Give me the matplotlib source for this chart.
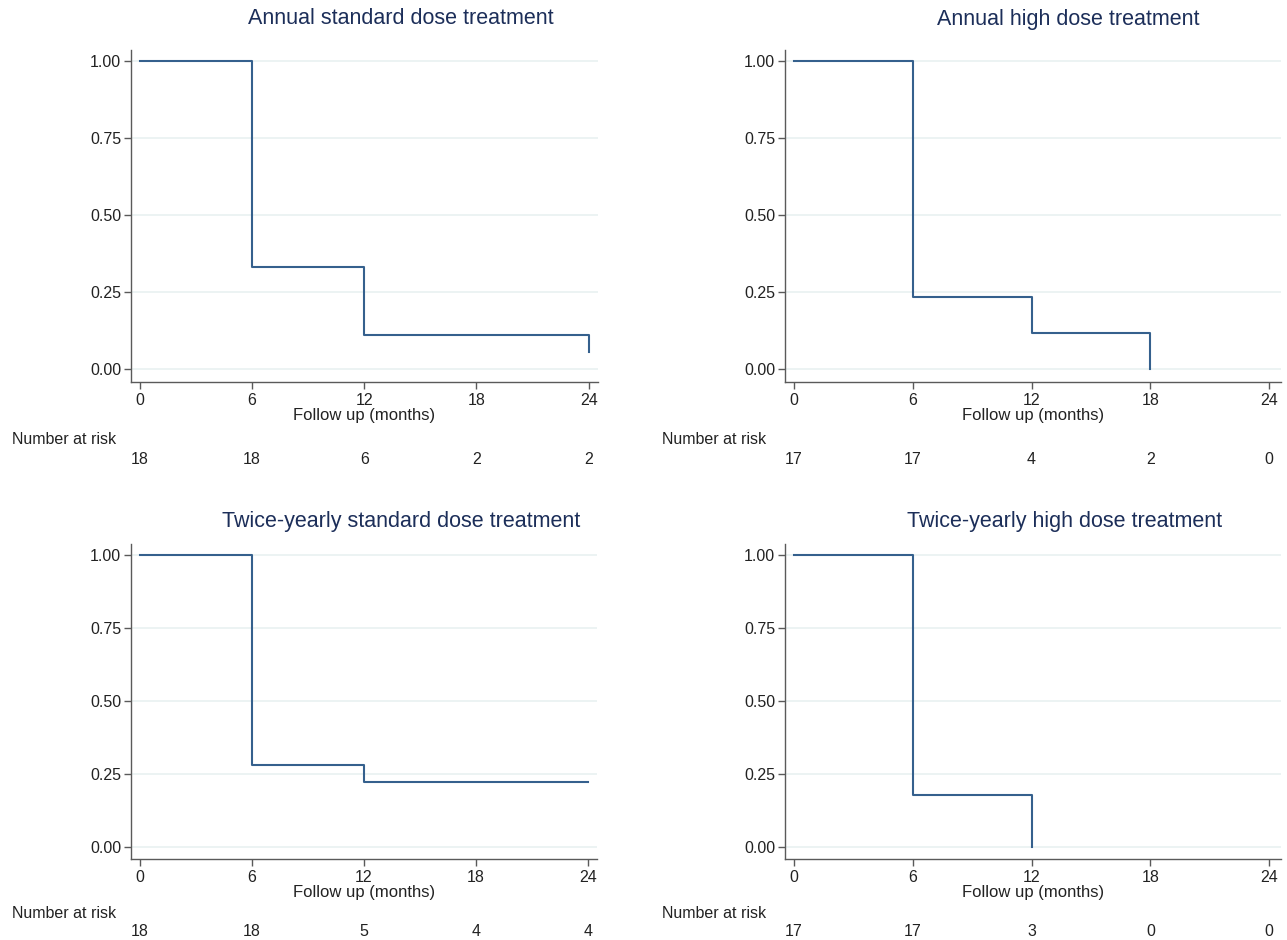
import numpy as np
import matplotlib
matplotlib.use("Agg")
import matplotlib.pyplot as plt
import matplotlib.transforms as mtransforms

plt.rcParams['font.family'] = ['Liberation Sans', 'DejaVu Sans']

# panel titles
titles = ["Annual standard dose treatment",
          "Annual high dose treatment",
          "Twice-yearly standard dose treatment",
          "Twice-yearly high dose treatment"]

# Kaplan-Meier steps: time of each step and survival after the step
step_times = [[6, 12, 24],
              [6, 12, 18],
              [6, 12, 24],
              [6, 12]]
step_surv = [[0.333, 0.111, 0.056],
             [0.235, 0.118, 0.0],
             [0.278, 0.222, 0.222],
             [0.176, 0.0]]

# number at risk table
risk_times = [0, 6, 12, 18, 24]
at_risk = [[18, 18, 6, 2, 2],
           [17, 17, 4, 2, 0],
           [18, 18, 5, 4, 4],
           [17, 17, 3, 0, 0]]

y_ticks = [0.0, 0.25, 0.5, 0.75, 1.0]

W, H = 1287, 940
fig = plt.figure(figsize=(W / 100, H / 100), dpi=100)

# axes boxes in pixels: left, top, right, bottom
boxes = [(131, 50, 598, 382),
         (785, 50, 1281, 382),
         (131, 544, 597, 859),
         (785, 544, 1281, 859)]
xlims = [(-0.48, 24.5), (-0.46, 24.6), (-0.48, 24.5), (-0.46, 24.6)]
title_pos = [(401, 19), (1068, 19), (401, 521), (1065, 521)]
risk_label_pos = [(12, 440), (662, 440), (12, 914), (662, 914)]
risk_num_y = [460, 460, 932, 932]

line_col = "#35608d"
title_col = "#1c2e59"
grid_col = "#e9f1f1"
spine_col = "#5a5a5a"

for i in range(4):
    l, t, r, b = boxes[i]
    ax = fig.add_axes([l / W, 1 - b / H, (r - l) / W, (b - t) / H])

    xs = [0] + step_times[i]
    ys = [1.0] + step_surv[i]
    ax.step(xs, ys, where='post', color=line_col, lw=1.5)

    ax.set_xlim(*xlims[i])
    ax.set_ylim(-0.042, 1.036)
    ax.set_xticks(risk_times)
    ax.set_yticks(y_ticks)
    ax.set_yticklabels(["%.2f" % v for v in y_ticks])
    for v in y_ticks:
        ax.axhline(v, color=grid_col, lw=1.2, zorder=0)

    for s in ['top', 'right']:
        ax.spines[s].set_visible(False)
    for s in ['left', 'bottom']:
        ax.spines[s].set_color(spine_col)
        ax.spines[s].set_linewidth(1.0)
    ax.tick_params(axis='both', colors=spine_col, labelcolor='#222222',
                   labelsize=11.5, length=5, width=1.0)
    ax.tick_params(axis='x', pad=3)
    ax.tick_params(axis='y', pad=2)

    ax.set_xlabel("Follow up (months)", fontsize=12, color='#222222', labelpad=0)

    fig.text(title_pos[i][0] / W, 1 - title_pos[i][1] / H, titles[i],
             ha='center', va='center', fontsize=15.5, color=title_col)
    fig.text(risk_label_pos[i][0] / W, 1 - risk_label_pos[i][1] / H, "Number at risk",
             ha='left', va='center', fontsize=11.5, color='#222222')

    trans = mtransforms.blended_transform_factory(ax.transData, fig.transFigure)
    for x, n in zip(risk_times, at_risk[i]):
        ax.text(x, 1 - risk_num_y[i] / H, str(n), transform=trans,
                ha='center', va='center', fontsize=11.5, color='#222222')

fig.savefig("out.png", dpi=100, facecolor='white')
